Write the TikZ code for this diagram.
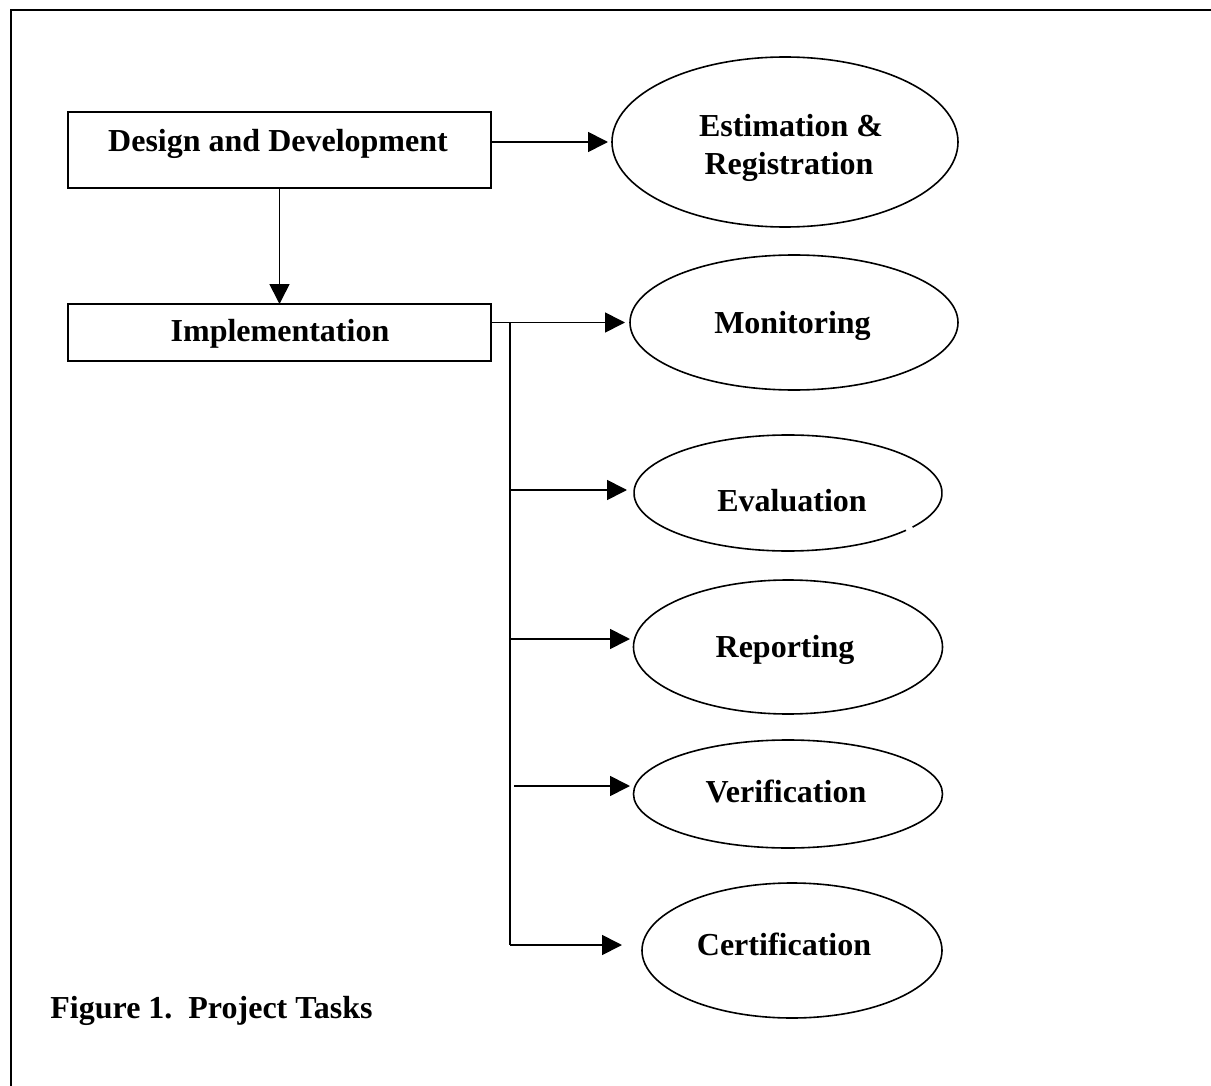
\documentclass[tikz,border=0pt]{standalone}
\usepackage{fontspec}
\setmainfont{Liberation Serif}
\usetikzlibrary{shapes.geometric,arrows.meta}
\begin{document}
\begin{tikzpicture}[x=0.5pt,y=-0.5pt,
  boxnode/.style={draw,line width=0.9pt,rectangle,inner sep=0pt,outer sep=0pt},
  ellnode/.style={draw,line width=0.8pt,ellipse,inner sep=0pt,outer sep=0pt},
  lbl/.style={font=\fontsize{16pt}{19pt}\selectfont\bfseries,inner sep=0pt,anchor=base},
  arr/.style={line width=0.85pt,-{Triangle[length=10pt,width=10pt]}},
  conn/.style={line width=0.85pt}]
\useasboundingbox (0,0) rectangle (1211,1086);
% frame
\draw[line width=1.2pt] (1211,10) -- (11,10) -- (11,1086);
% boxes
\node[boxnode,minimum width=211.5pt,minimum height=38pt] (dd) at (279.5,150) {};
\node[boxnode,minimum width=211.5pt,minimum height=28.5pt] (impl) at (279.5,332.5) {};
% ellipses
\node[ellnode,minimum width=173pt,minimum height=85pt] (est) at (785,142) {};
\node[ellnode,minimum width=164pt,minimum height=67.5pt] (mon) at (794,322.5) {};
\node[ellnode,draw=none,minimum width=154pt,minimum height=58pt] (eva) at (788,493) {};
\draw[line width=0.8pt] (eva.center) ++(-36:77pt and 29pt) arc[start angle=-36,end angle=320,x radius=77pt,y radius=29pt];
\node[ellnode,minimum width=154.5pt,minimum height=67pt] (rep) at (788,647) {};
\node[ellnode,minimum width=154.5pt,minimum height=54pt] (ver) at (788,794) {};
\node[ellnode,minimum width=150pt,minimum height=67.5pt] (cer) at (792,950.5) {};
% texts
\node[lbl] (ddt) at (278,152) {Design and Development};
\node[lbl] (implt) at (280,341) {Implementation};
\node[lbl] (estt1) at (791,137) {Estimation \&};
\node[lbl] (estt2) at (789,175) {Registration};
\node[lbl] (mont) at (792.5,333) {Monitoring};
\node[lbl] (evat) at (792,511) {Evaluation};
\node[lbl] (rept) at (785,657) {Reporting};
\node[lbl] (vert) at (786,802) {Verification};
\node[lbl] (cert) at (784,955) {Certification};
\node[lbl,anchor=base west] (cap) at (50,1018) {Figure 1.\ \ Project Tasks};
% connectors
\draw[arr,shorten >=2pt] (dd.east |- est.west) -- (est.west);
\draw[arr] (dd.south) -- (impl.north);
\draw[arr,shorten >=2.5pt] (impl.east |- mon.west) -- (mon.west);
\coordinate (ttop) at (510,322.5);
\coordinate (tbot) at (510,945);
\draw[conn] (ttop) -- (tbot);
\coordinate (b1) at (510,490);
\coordinate (b2) at (510,639);
\coordinate (b3) at (514,786);
\coordinate (b4) at (510,945);
\draw[arr,shorten >=3.5pt] (b1) -- (eva.west |- b1);
\draw[arr,shorten >=1.75pt] (b2) -- (rep.west |- b2);
\draw[arr,shorten >=1.75pt] (b3) -- (ver.west |- b3);
\draw[arr,shorten >=10pt] (b4) -- (cer.west |- b4);
\end{tikzpicture}
\end{document}
